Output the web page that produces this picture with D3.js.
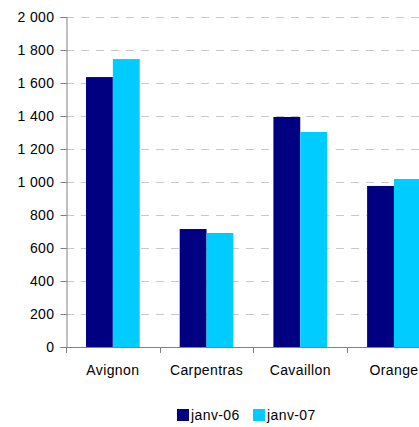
<!DOCTYPE html>
<html>
<head>
<meta charset="utf-8">
<script src="https://cdn.jsdelivr.net/npm/d3@7"></script>
<style>
body { margin: 0; background: #fff; }
svg text { font-family: "Liberation Sans", Arial, sans-serif; font-size: 14px; letter-spacing: 0.4px; fill: #000; }
</style>
</head>
<body>
<script>
var w = 419;
var h = 427;

var categories = ["Avignon", "Carpentras", "Cavaillon", "Orange"];
var seriesNames = ["janv-06", "janv-07"];
var janv06 = [1636, 715, 1394, 976];
var janv07 = [1745, 691, 1303, 1018];
var yTicks = [0, 200, 400, 600, 800, 1000, 1200, 1400, 1600, 1800, 2000];
var colors = ["#000080", "#00ccff"];

var series = [janv06, janv07];

var svg = d3.select("body")
    .append("svg")
    .attr("width", w)
    .attr("height", h);

var plotLeft = 66, plotTop = 17, plotBottom = 347;
var step = 93.7;

var x = d3.scaleBand()
    .domain(categories)
    .range([plotLeft, plotLeft + step * categories.length]);

var x1 = d3.scaleBand()
    .domain(seriesNames)
    .range([20, step - 20]);

var y = d3.scaleLinear()
    .domain([0, 2000])
    .range([plotBottom, plotTop]);

var fmt = function(d){
    return d3.format(",")(d).replace(/,/g, "\u00a0");
};

// gridlines
svg.append("g")
    .selectAll("line")
    .data(yTicks.slice(1))
    .enter()
    .append("line")
    .attr("x1", plotLeft)
    .attr("x2", w)
    .attr("y1", function(d){ return Math.round(y(d)) + 0.5; })
    .attr("y2", function(d){ return Math.round(y(d)) + 0.5; })
    .attr("stroke", "#c8c8c8")
    .attr("stroke-dasharray", "8,7");

// bars
series.forEach(function(vals, si){
    svg.append("g")
        .attr("fill", colors[si])
        .selectAll("rect")
        .data(vals)
        .enter()
        .append("rect")
        .attr("x", function(d, i){ return x(categories[i]) + x1(seriesNames[si]); })
        .attr("y", function(d){ return y(d); })
        .attr("width", x1.bandwidth())
        .attr("height", function(d){ return plotBottom - y(d); });
});

// y axis
var yAxis = svg.append("g")
    .attr("transform", "translate(" + (plotLeft + 0.5) + ",0)")
    .call(d3.axisLeft(y).tickValues(yTicks).tickSize(6).tickFormat(fmt));
yAxis.selectAll("text").attr("x", -12);

// x axis
var xAxis = svg.append("g")
    .attr("transform", "translate(0," + (plotBottom + 0.5) + ")")
    .call(d3.axisBottom(x).tickSize(0));
xAxis.select(".domain").attr("d", "M" + plotLeft + ",0H" + w);
xAxis.selectAll("text").attr("y", 18);

svg.append("g")
    .selectAll("line")
    .data(categories)
    .enter()
    .append("line")
    .attr("x1", function(d){ return Math.round(x(d)) + 0.5; })
    .attr("x2", function(d){ return Math.round(x(d)) + 0.5; })
    .attr("y1", plotBottom)
    .attr("y2", plotBottom + 6)
    .attr("stroke", "#808080");

svg.selectAll(".domain, .tick line").attr("stroke", "#808080");

// legend
var legend = svg.append("g")
    .selectAll("g")
    .data(seriesNames)
    .enter()
    .append("g")
    .attr("transform", function(d, i){ return "translate(" + (177 + i * 76) + ",409)"; });

legend.append("rect")
    .attr("width", 12)
    .attr("height", 12)
    .attr("fill", function(d, i){ return colors[i]; });

legend.append("text")
    .attr("x", 14)
    .attr("y", 11)
    .text(function(d){ return d; });
</script>
</body>
</html>
